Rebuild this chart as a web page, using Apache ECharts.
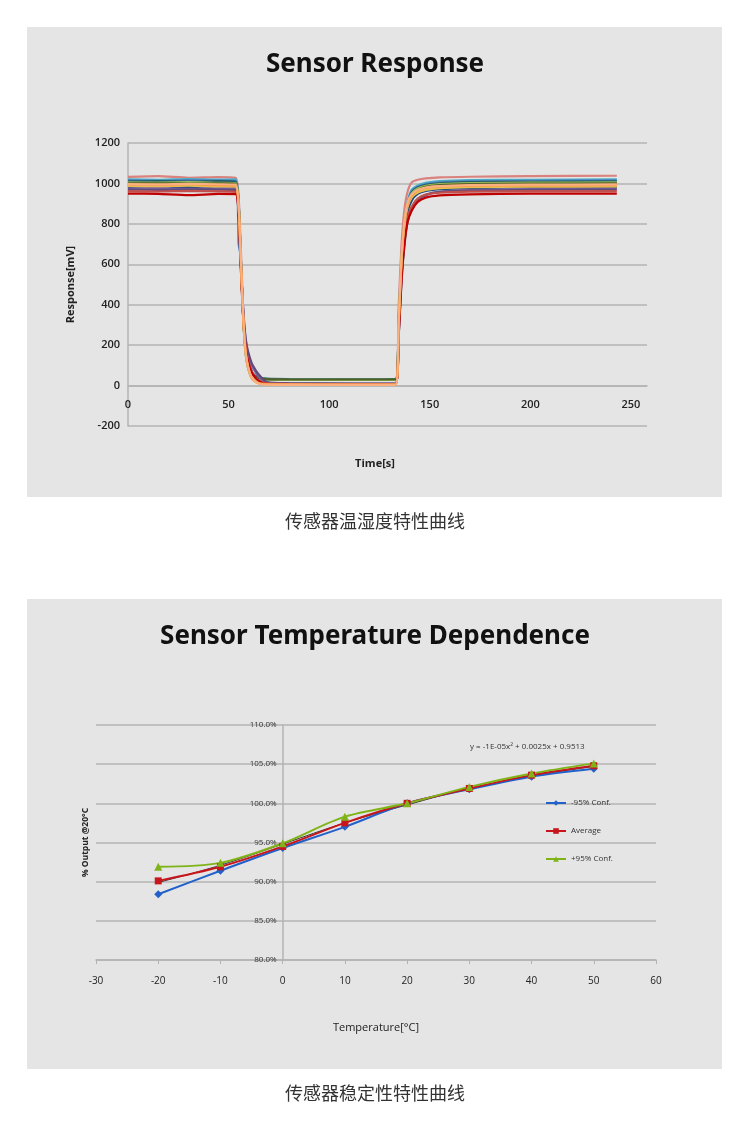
<!DOCTYPE html>
<html><head><meta charset="utf-8">
<script src="https://cdn.jsdelivr.net/npm/echarts@6/dist/echarts.min.js"></script>
<style>html,body{margin:0;padding:0;background:#fff}#c{width:750px;height:1135px}</style>
</head><body><div id="c"></div>
<script>
// ---------- Chart 1: Sensor Response ----------
const timeS = [0, 15, 30, 45, 53.5, 55, 56, 57, 58, 59, 60.5, 62, 65, 69, 80, 110, 133, 134.5, 136, 137.5, 139, 141, 144, 148, 155, 170, 200, 243];
const r1  = [1032,1036,1028,1031,1028, 930,700,430,220,120, 60, 30, 12,  7,  6,  6,  6, 380,700,880,960,1005,1018,1025,1030,1033,1036,1038];
const r2  = [1020,1018,1022,1019,1020, 910,660,400,210,120, 60, 32, 14,  7,  5,  5,  5, 320,640,820,910, 968, 990,1003,1011,1016,1018,1020];
const r3  = [1015,1013,1016,1014,1012, 700,640,390,220,140, 80, 52, 36, 30, 28, 28, 28, 300,620,800,900, 960, 982, 996,1005,1010,1013,1015];
const r4  = [1010,1011,1009,1012,1008, 900,650,400,230,150, 90, 58, 40, 34, 32, 31, 32, 300,610,790,890, 955, 980, 993,1001,1006,1008,1010];
const r5  = [1005,1004,1006,1003,1002, 900,640,390,220,140, 80, 50, 35, 30, 28, 28, 28, 310,620,800,895, 950, 975, 988, 997,1002,1004,1005];
const r6  = [1000,1001, 999,1000, 998, 890,640,400,230,150, 85, 55, 38, 32, 30, 30, 30, 290,600,780,880, 940, 967, 983, 992, 997, 999,1000];
const r7  = [ 983, 984, 982, 985, 980, 870,630,400,240,160,100, 60, 25, 12,  8,  8,  8, 270,580,760,860, 915, 948, 963, 972, 977, 980, 982];
const r8  = [ 975, 977, 973, 976, 972, 860,630,420,270,190,130, 90, 45, 15, 10,  8,  8, 240,540,720,820, 870, 915, 942, 958, 967, 972, 975];
const r9  = [ 970, 968, 971, 969, 967, 850,620,420,280,200,140,100, 55, 18, 12, 10, 10, 230,520,700,810, 870, 918, 944, 958, 964, 968, 970];
const r10 = [ 962, 960, 963, 961, 958, 850,610,390,240,160,100, 60, 25, 10,  8,  7,  7, 250,550,730,830, 885, 925, 945, 954, 959, 962, 962];
const r11 = [ 950, 948, 942, 948, 947, 840,600,380,230,150, 90, 55, 22,  9,  7,  6,  6, 240,530,710,810, 865, 908, 930, 941, 946, 950, 950];
const r12 = [ 988, 986, 989, 985, 984, 880,640,390,210,120, 60, 30, 10,  6,  5,  4,  4, 290,620,800,885, 930, 955, 968, 977, 982, 984, 985];
const r13 = [ 995, 993, 996, 992, 990, 890,650,400,215,125, 62, 32, 12,  8,  7,  6,  6, 300,630,810,895, 938, 965, 978, 985, 989, 990, 991];
const r14 = [ 997, 995, 998, 996, 994, 890,660,410,220,130, 65, 34, 10,  4,  3,  3,  3, 310,640,820,905, 945, 967, 980, 987, 992, 994, 995];
const responseRows = [r1, r2, r3, r4, r5, r6, r7, r8, r9, r10, r11, r12, r13, r14];
const responseColors = ['#D9827E','#4BACC6','#4F81BD','#215968','#9BBB59','#4F6228','#1F497D','#8064A2','#604A7B','#C0504D','#C00000','#E8C050','#F79646','#FAB080'];
const respYTicks = {min: -200, max: 1200, step: 200};
const timeTicks = {min: 0, max: 258, step: 50};

// ---------- Chart 2: Temperature Dependence ----------
const tempC = [-20, -10, 0, 10, 20, 30, 40, 50];
const lowConf = [88.4, 91.4, 94.3, 97.0, 100.0, 101.8, 103.4, 104.4];
const average = [90.1, 91.9, 94.5, 97.5, 100.0, 101.9, 103.6, 104.8];
const highConf = [91.9, 92.4, 94.9, 98.3, 100.0, 102.1, 103.8, 105.1];
const trend = [89.9, 92.1, 94.8, 97.5, 99.8, 101.9, 103.5, 104.7];
const tempTicks = {min: -30, max: 60, step: 10};
const pctTicks = {min: 80, max: 110, step: 5};

const chart = echarts.init(document.getElementById('c'), null, {renderer: 'canvas'});
const gridLineColor = '#b3b3b3';
const font = 'Open Sans, Noto Sans, sans-serif';

// grid geometry
const g0 = {left: 128, top: 143, width: 519, height: 283};
const g1 = {left: 96, top: 725, width: 560, height: 235};
// offsets so that axes sit at the zero of the other axis
const xZeroOffset0 = -g0.height * (0 - respYTicks.min) / (respYTicks.max - respYTicks.min);
const yZeroOffset1 = -g1.width * (0 - tempTicks.min) / (tempTicks.max - tempTicks.min);

const topSeries = responseRows.map((row, i) => ({
  type: 'line', xAxisIndex: 0, yAxisIndex: 0, name: 'S' + (i + 1),
  data: row.map((v, k) => [timeS[k], v]),
  showSymbol: false, symbol: 'none', smooth: 0.2,
  lineStyle: {width: 2.2, color: responseColors[i]}, itemStyle: {color: responseColors[i]},
  z: 3
}));

const mkLine = (name, vals, color, symbol, size) => ({
  type: 'line', name, xAxisIndex: 1, yAxisIndex: 1,
  data: vals.map((v, k) => [tempC[k], v]),
  smooth: 0.3, symbol, symbolSize: size,
  lineStyle: {width: 2, color}, itemStyle: {color},
  z: 4
});

chart.setOption({
  animation: false,
  backgroundColor: '#ffffff',
  title: [
    {text: 'Sensor Response', left: 'center', top: 47,
     textStyle: {fontSize: 26, fontWeight: 'bold', color: '#111', fontFamily: 'Noto Sans'}},
    {text: 'Sensor Temperature Dependence', left: 'center', top: 619,
     textStyle: {fontSize: 26, fontWeight: 'bold', color: '#111', fontFamily: 'Noto Sans'}}
  ],
  graphic: [
    {type: 'rect', z: -100, silent: true, shape: {x: 27, y: 27, width: 695, height: 470}, style: {fill: '#e5e5e5'}},
    {type: 'rect', z: -100, silent: true, shape: {x: 27, y: 599, width: 695, height: 470}, style: {fill: '#e5e5e5'}},
    {type: 'text', x: 375, y: 521, style: {text: '传感器温湿度特性曲线', fontSize: 18, fill: '#333',
      fontFamily: 'Noto Sans CJK SC', align: 'center', verticalAlign: 'middle'}},
    {type: 'text', x: 375, y: 1093, style: {text: '传感器稳定性特性曲线', fontSize: 18, fill: '#333',
      fontFamily: 'Noto Sans CJK SC', align: 'center', verticalAlign: 'middle'}},
    {type: 'text', x: 375, y: 464, style: {text: 'Time[s]', fontSize: 11, fontWeight: 'bold', fill: '#222',
      fontFamily: font, align: 'center', verticalAlign: 'middle'}},
    {type: 'text', x: 470, y: 747, style: {text: 'y = -1E-05x² + 0.0025x + 0.9513', fontSize: 8, fill: '#333',
      fontFamily: font, align: 'left', verticalAlign: 'middle'}}
  ],
  legend: {
    data: ['-95% Conf.', 'Average', '+95% Conf.'],
    orient: 'vertical', left: 545, top: 799, padding: 0,
    itemWidth: 20, itemHeight: 7, itemGap: 20,
    textStyle: {fontSize: 8, color: '#333', fontFamily: font}
  },
  grid: [
    Object.assign({containLabel: false, outerBoundsMode: 'none'}, g0),
    Object.assign({containLabel: false, outerBoundsMode: 'none'}, g1)
  ],
  xAxis: [
    {type: 'value', gridIndex: 0, min: timeTicks.min, max: timeTicks.max, interval: timeTicks.step,
     offset: xZeroOffset0,
     axisLine: {show: true, onZero: false, lineStyle: {color: gridLineColor, width: 1.5}},
     axisTick: {show: false}, splitLine: {show: false},
     axisLabel: {fontSize: 11, fontWeight: 600, color: '#222', margin: 14, showMaxLabel: false, fontFamily: font}},
    {type: 'value', gridIndex: 1, min: tempTicks.min, max: tempTicks.max, interval: tempTicks.step,
     axisLine: {show: true, onZero: false, lineStyle: {color: gridLineColor, width: 1.5}},
     axisTick: {show: true, length: 4, lineStyle: {color: gridLineColor}}, splitLine: {show: false},
     axisLabel: {fontSize: 10, color: '#222', margin: 16, fontFamily: font},
     name: 'Temperature[°C]', nameLocation: 'middle', nameGap: 62,
     nameTextStyle: {fontSize: 11, color: '#222', fontFamily: font}}
  ],
  yAxis: [
    {type: 'value', gridIndex: 0, min: respYTicks.min, max: respYTicks.max, interval: respYTicks.step,
     axisLine: {show: true, onZero: false, lineStyle: {color: gridLineColor, width: 1.5}},
     axisTick: {show: false},
     splitLine: {show: true, lineStyle: {color: gridLineColor, width: 1.5}},
     axisLabel: {fontSize: 11, fontWeight: 600, color: '#222', margin: 8, fontFamily: font, formatter: v => String(v)},
     name: 'Response[mV]', nameLocation: 'middle', nameGap: 52,
     nameTextStyle: {fontSize: 11, fontWeight: 'bold', color: '#222', fontFamily: font}},
    {type: 'value', gridIndex: 1, min: pctTicks.min, max: pctTicks.max, interval: pctTicks.step,
     offset: yZeroOffset1,
     axisLine: {show: true, onZero: false, lineStyle: {color: gridLineColor, width: 1.5}},
     axisTick: {show: false},
     splitLine: {show: true, lineStyle: {color: gridLineColor, width: 1.5}},
     axisLabel: {fontSize: 8, color: '#333', margin: 6, fontFamily: font,
       formatter: v => v.toFixed(1) + '%'},
     name: '% Output @20°C', nameLocation: 'middle', nameGap: 193,
     nameTextStyle: {fontSize: 8.5, fontWeight: 'bold', color: '#222', fontFamily: font}}
  ],
  series: topSeries.concat([
    {type: 'line', name: 'Trend', xAxisIndex: 1, yAxisIndex: 1,
     data: trend.map((v, k) => [tempC[k], v]), smooth: 0.4, symbol: 'none',
     lineStyle: {width: 1, color: '#333'}, z: 3},
    mkLine('-95% Conf.', lowConf, '#2161C9', 'diamond', 8),
    mkLine('Average', average, '#C8161D', 'rect', 7),
    mkLine('+95% Conf.', highConf, '#7FB418', 'triangle', 8)
  ])
});
</script>
</body></html>
